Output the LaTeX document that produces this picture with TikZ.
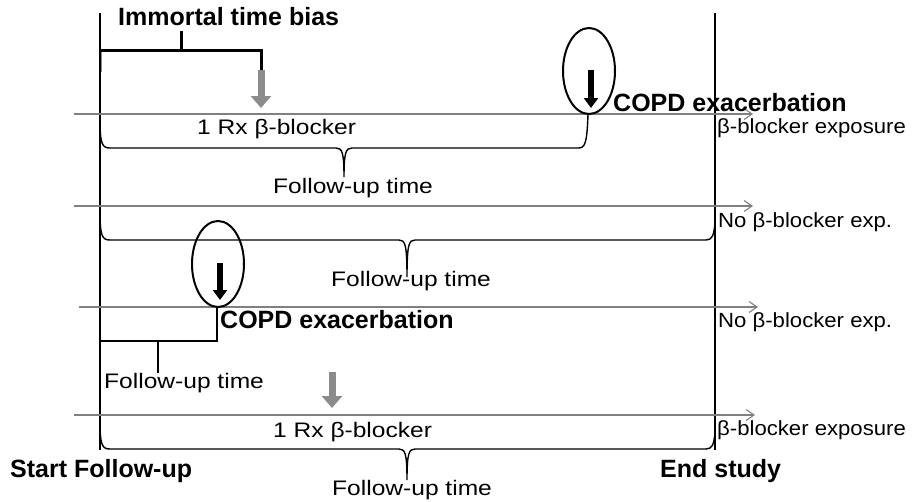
\documentclass[tikz,border=0pt]{standalone}
\usepackage{fontspec}
\setmainfont{Liberation Sans}
\newfontfamily\regfont[FakeStretch=1.17]{Liberation Sans}
\newfontfamily\rfont[FakeStretch=1.08]{Liberation Sans}
\usetikzlibrary{arrows.meta,shapes.geometric}
\definecolor{tlgray}{RGB}{128,128,128}
\definecolor{agray}{RGB}{140,140,140}
\tikzset{
 boldlab/.style={font=\fontsize{25}{30}\selectfont\bfseries, inner sep=0pt, anchor=base west},
 reglab/.style={font=\regfont\fontsize{21}{25}\selectfont, inner sep=0pt, anchor=base west},
 rlab/.style={font=\rfont\fontsize{20.5}{25}\selectfont, inner sep=0pt, anchor=base west},
 timeline/.style={draw=tlgray, line width=1.1pt, -{Straight Barb[length=8pt,width=11pt]}},
 studyline/.style={draw=black, line width=2pt},
 bracestyle/.style={draw=black, line width=1.4pt},
 biasline/.style={draw=black, line width=3pt},
 grayarrow/.style={draw=agray, line width=7pt, -{Triangle[length=12pt,width=20pt]}},
 blackarrow/.style={draw=black, line width=5.5pt, -{Triangle[length=10pt,width=14pt]}},
 eventring/.style={ellipse, draw=black, line width=2pt, minimum width=52pt, minimum height=86pt, inner sep=0pt},
}
\begin{document}
\begin{tikzpicture}[x=1pt,y=-1pt]
\useasboundingbox (0,0) rectangle (913,501);
% coordinates
\coordinate (ls) at (100,13); \coordinate (le) at (100,450);
\coordinate (rs) at (715,13); \coordinate (re) at (715,450);
\coordinate (t1a) at (74,114); \coordinate (t1b) at (753,114);
\coordinate (t2a) at (74,206); \coordinate (t2b) at (753,206);
\coordinate (t3a) at (79,307); \coordinate (t3b) at (758,307);
\coordinate (t4a) at (74,415); \coordinate (t4b) at (755,415);
% immortal time bias bracket
\draw[agray, line width=3pt] (100,50) -- (100,72);
\draw[biasline] (100,50) -- (261,50) -- (261,71);
\draw[biasline] (181,50) -- (181,31);
\coordinate (g1a) at (261,70); \coordinate (g1b) at (261,108);
\draw[grayarrow] (g1a) -- (g1b);
\coordinate (g4a) at (332,372); \coordinate (g4b) at (332,408);
\draw[grayarrow] (g4a) -- (g4b);
% study lines
\draw[studyline] (ls) -- (le);
\draw[studyline] (rs) -- (re);
% timelines
\draw[timeline] (t1a) -- (t1b);
\draw[timeline] (t2a) -- (t2b);
\draw[timeline] (t3a) -- (t3b);
\draw[timeline] (t4a) -- (t4b);
% events
\node[eventring] (e1) at (589,71) {};
\node[eventring] (e2) at (218,264) {};
\coordinate (b1a) at (591,70); \coordinate (b1b) at (591,108);
\draw[blackarrow] (b1a) -- (b1b);
\coordinate (b2a) at (220,263); \coordinate (b2b) at (220,300);
\draw[blackarrow] (b2a) -- (b2b);
% braces
\draw[bracestyle] (100,118) .. controls (100,144) and (102,148) .. (110,148) -- (336,148)
  .. controls (342,148) and (344,152) .. (344,177) .. controls (344,152) and (346,148) .. (352,148)
  -- (578,148) .. controls (585,148) and (587,144) .. (588,114);
\draw[bracestyle] (100,210) .. controls (100,236) and (102,240) .. (110,240) -- (399,240)
  .. controls (405,240) and (407,244) .. (407,277) .. controls (407,244) and (409,240) .. (415,240)
  -- (706,240) .. controls (712,240) and (714,236) .. (715,222);
\draw[bracestyle] (100,341) -- (217,341) -- (217,308);
\draw[bracestyle] (158,341) -- (158,373);
\draw[bracestyle] (100,420) .. controls (100,445) and (102,449) .. (110,449) -- (399,449)
  .. controls (405,449) and (407,453) .. (407,480) .. controls (407,453) and (409,449) .. (415,449)
  -- (706,449) .. controls (712,449) and (714,445) .. (715,432);
% labels
\node[boldlab] (bias) at (118,25) {Immortal time bias};
\node[reglab] (rx1) at (197,134) {1 Rx β-blocker};
\node[boldlab] (copd1) at (613,111) {COPD exacerbation};
\node[rlab] (exp1) at (717,133) {β-blocker exposure};
\node[reglab] (fu1) at (273,193) {Follow-up time};
\node[rlab] (noexp2) at (718,227) {No β-blocker exp.};
\node[reglab] (fu2) at (331,286) {Follow-up time};
\node[boldlab] (copd3) at (220,328) {COPD exacerbation};
\node[rlab] (noexp3) at (718,327) {No β-blocker exp.};
\node[reglab] (fu3) at (104,388) {Follow-up time};
\node[reglab] (rx4) at (273,437) {1 Rx β-blocker};
\node[rlab] (exp4) at (717,435) {β-blocker exposure};
\node[boldlab] (start) at (10,477) {Start Follow-up};
\node[boldlab] (end) at (660,477) {End study};
\node[reglab] (fu4) at (332,495) {Follow-up time};
\end{tikzpicture}
\end{document}
